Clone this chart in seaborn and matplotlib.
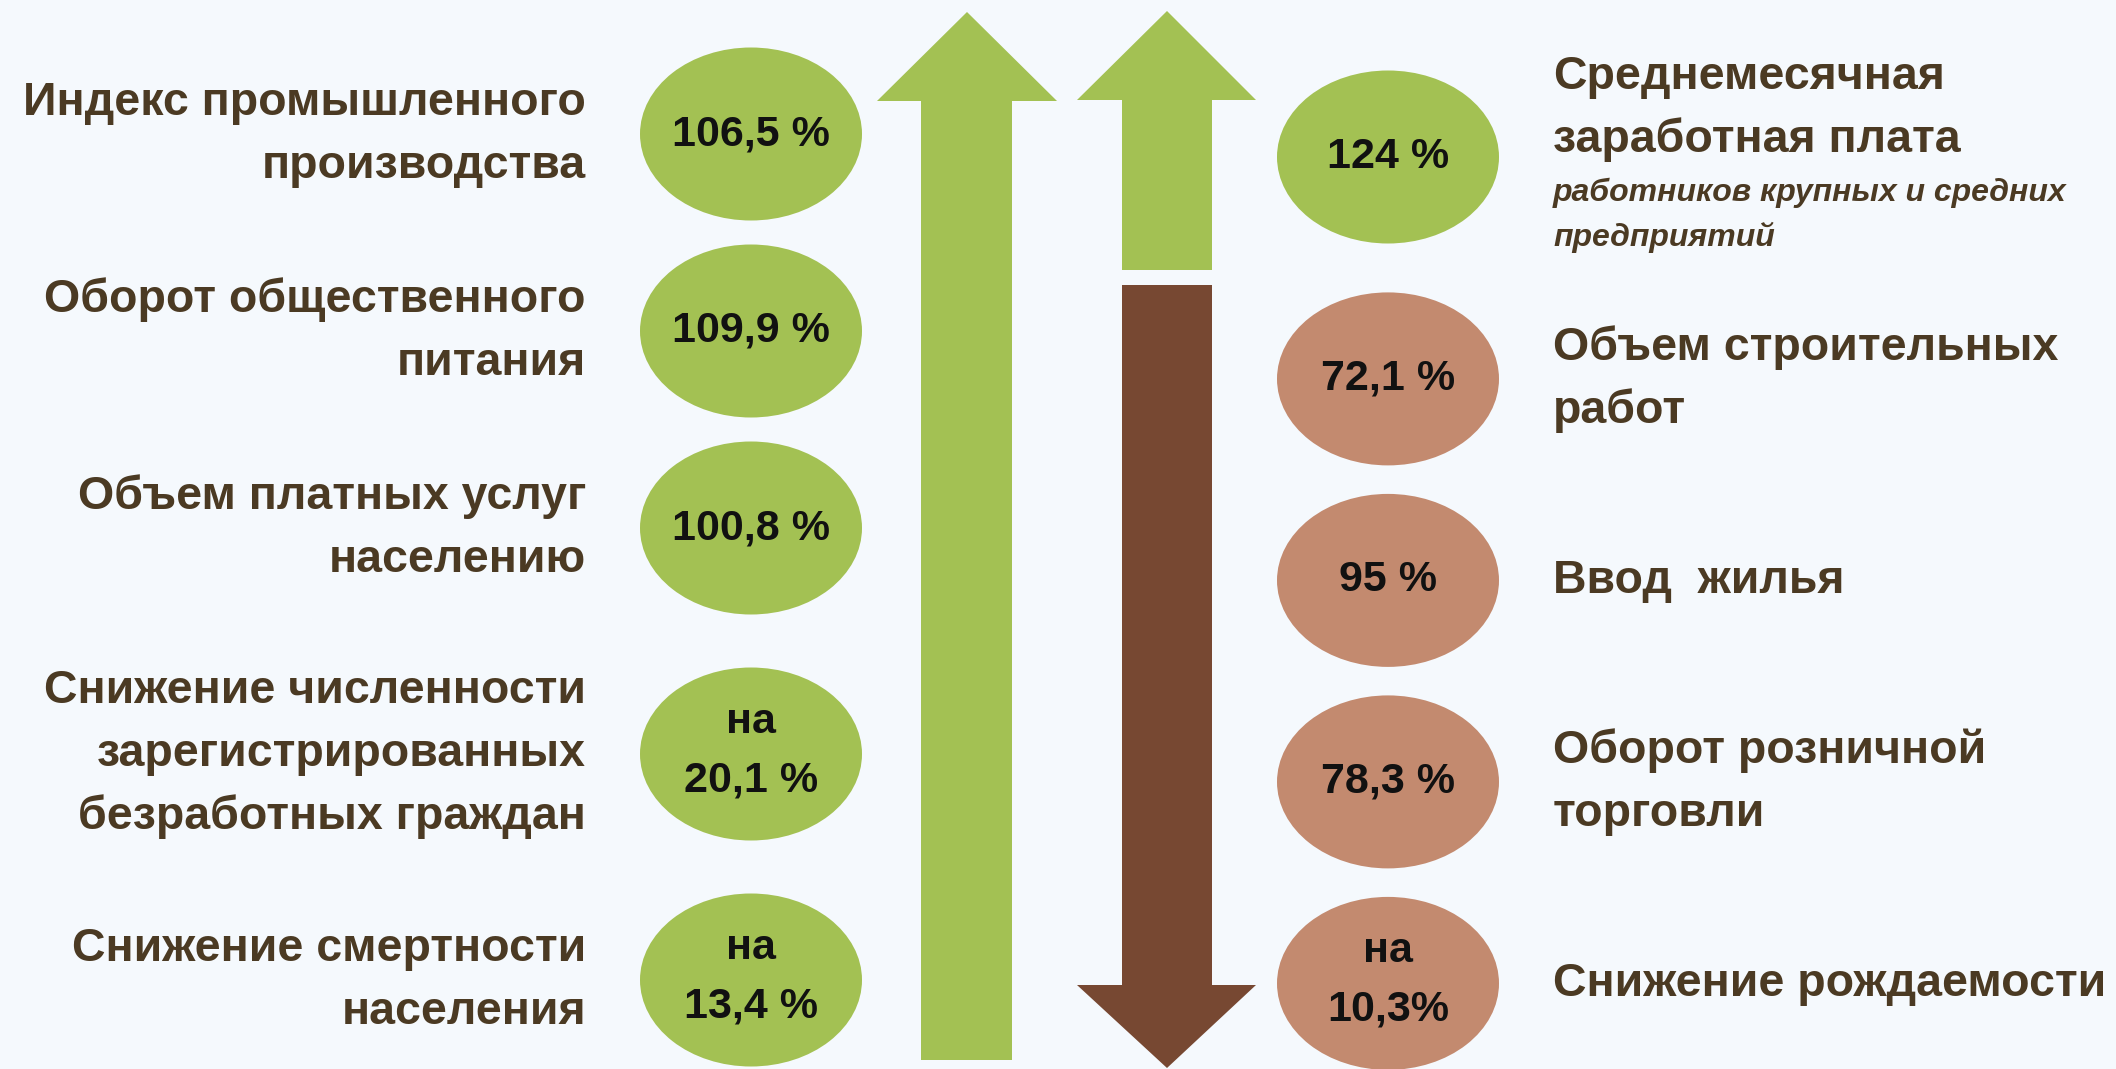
import matplotlib.pyplot as plt
import numpy as np
import pandas as pd
import seaborn as sns
from matplotlib.markers import MarkerStyle
from matplotlib.path import Path
from matplotlib.transforms import Affine2D

# Indicators on the left (all growing)
left_labels = ["Индекс промышленного\nпроизводства",
               "Оборот общественного\nпитания",
               "Объем платных услуг\nнаселению",
               "Снижение численности\nзарегистрированных\nбезработных граждан",
               "Снижение смертности\nнаселения"]
left_values = ["106,5 %", "109,9 %", "100,8 %", "на\n20,1 %", "на\n13,4 %"]

# Indicators on the right (one growing, the rest falling)
right_labels = ["Среднемесячная\nзаработная плата",
                "Объем строительных\nработ",
                "Ввод  жилья",
                "Оборот розничной\nторговли",
                "Снижение рождаемости"]
right_notes = ["работников крупных и средних\nпредприятий", "", "", "", ""]
right_values = ["124 %", "72,1 %", "95 %", "78,3 %", "на\n10,3%"]
right_trend = ["up", "down", "down", "down", "down"]

# Colours
bg = "#f5f9fd"
green = "#a3c153"
rose = "#c38a6f"
dark_brown = "#774832"
text_col = "#4b3a23"

sns.set_style("white")
plt.rcParams["font.family"] = ["Liberation Sans", "DejaVu Sans"]

W, H = 2116, 1069
fig = plt.figure(figsize=(W / 100, H / 100), dpi=100)
fig.patch.set_facecolor(bg)
ax = fig.add_axes([0, 0, 1, 1])
ax.set_facecolor(bg)


def row_positions(line_counts, first, base, per_line):
    # spacing between rows grows with the height of the labels
    lc = np.array(line_counts, dtype=float)
    gaps = base + per_line * (lc[:-1] + lc[1:]) / 2
    return first + np.concatenate([[0], np.cumsum(gaps)])


left_lines = [len(s.split("\n")) for s in left_labels]
right_lines = [len(s.split("\n")) + 0.7 * len(nt.split("\n")) * bool(nt)
               for s, nt in zip(right_labels, right_notes)]
left_y = row_positions(left_lines, 134, 81, 58)
right_y = row_positions(right_lines, 157, 176, 17)
left_x, right_x = 751, 1388

left_df = pd.DataFrame({"x": left_x, "y": left_y, "trend": "up"})
right_df = pd.DataFrame({"x": right_x, "y": right_y, "trend": right_trend})

# Arrows
ax.fill([921, 921, 877, 967, 1057, 1012, 1012],
        [1060, 101, 101, 12, 101, 101, 1060], color=green, lw=0)
ax.fill([1122, 1122, 1077, 1167, 1256, 1212, 1212],
        [270, 100, 100, 11, 100, 100, 270], color=green, lw=0)
ax.fill([1122, 1122, 1077, 1167, 1256, 1212, 1212],
        [285, 985, 985, 1068, 985, 985, 285], color=dark_brown, lw=0)

# Elliptical markers
ell = Path.unit_circle().transformed(Affine2D().scale(1, 173 / 222))
ell_marker = MarkerStyle(ell)
size = (222 * 72 / 100) ** 2
pal = {"up": green, "down": rose}
sns.scatterplot(data=left_df, x="x", y="y", hue="trend", palette=pal,
                marker=ell_marker, s=size, linewidth=0, legend=False, ax=ax)
sns.scatterplot(data=right_df, x="x", y="y", hue="trend", palette=pal,
                marker=ell_marker, s=size, linewidth=0, legend=False, ax=ax)


def draw_block(x, yc, main, note, ha):
    lines = [(t, "main") for t in main.split("\n")]
    if note:
        lines += [(t, "note") for t in note.split("\n")]
    step = {"main": 63, "note": 45}
    total = sum(step[k] for _, k in lines)
    y = yc - total / 2 - (8 if note else 4)
    for t, k in lines:
        base = y + step[k] * 0.76
        if k == "main":
            ax.text(x, base, t, ha=ha, va="baseline", fontsize=33.5,
                    fontweight="bold", color=text_col)
        else:
            ax.text(x, base, t, ha=ha, va="baseline", fontsize=23,
                    fontweight="bold", fontstyle="italic", color=text_col)
        y += step[k]


def draw_value(x, yc, val):
    parts = val.split("\n")
    if len(parts) == 1:
        ax.text(x, yc + 11, parts[0], ha="center", va="baseline",
                fontsize=31, fontweight="bold", color="#111111")
    else:
        ax.text(x, yc - 21, parts[0], ha="center", va="baseline",
                fontsize=31, fontweight="bold", color="#111111")
        ax.text(x, yc + 37, parts[1], ha="center", va="baseline",
                fontsize=31, fontweight="bold", color="#111111")


for i in range(len(left_labels)):
    draw_block(586, left_y[i], left_labels[i], "", "right")
    draw_value(left_x, left_y[i], left_values[i])
for i in range(len(right_labels)):
    draw_block(1553, right_y[i], right_labels[i], right_notes[i], "left")
    draw_value(right_x, right_y[i], right_values[i])

ax.set_xlim(0, W)
ax.set_ylim(H, 0)
ax.axis("off")

fig.savefig("out.png", dpi=100, facecolor=bg)
